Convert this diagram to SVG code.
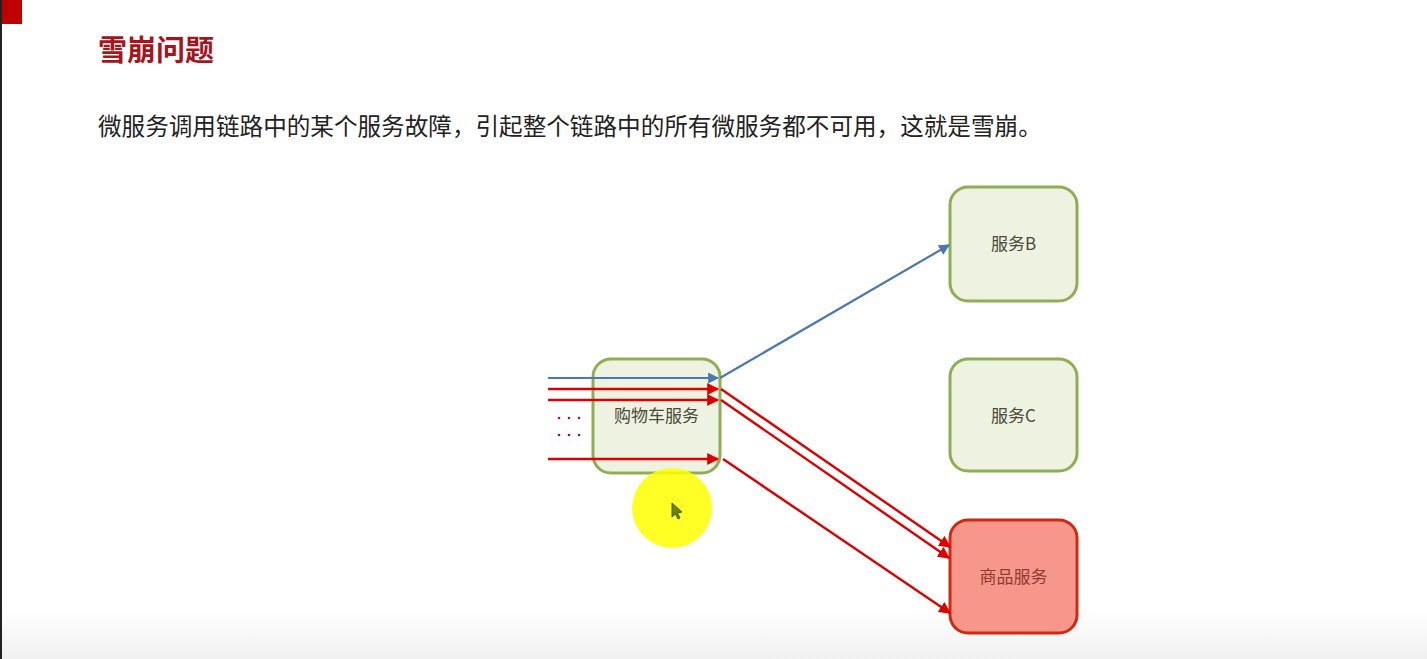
<svg xmlns="http://www.w3.org/2000/svg" width="1427" height="659" viewBox="0 0 1427 659">
<style>
.t{font-family:"Noto Sans CJK SC","Liberation Sans",sans-serif}
.node{fill:#eef3e1;stroke:#8fad53;stroke-width:3}
.bad{fill:#f7978b;stroke:#cc2b12;stroke-width:3}
.lbl{font-size:17px;fill:#4a4a3a;text-anchor:middle;dominant-baseline:central}
.r{stroke:#dd0000;stroke-width:2.4;fill:none}
.b{stroke:#4a78b0;stroke-width:2.2;fill:none}
</style>
<defs>
<marker id="ar" viewBox="0 0 10 10" refX="9" refY="5" markerWidth="5" markerHeight="5" orient="auto" markerUnits="strokeWidth"><path d="M0,0L10,5L0,10z" fill="#dd0000"/></marker>
<marker id="ab" viewBox="0 0 10 10" refX="9" refY="5" markerWidth="5" markerHeight="5" orient="auto" markerUnits="strokeWidth"><path d="M0,0L10,5L0,10z" fill="#4a78b0"/></marker>
<linearGradient id="bg" x1="0" y1="0" x2="0" y2="1"><stop offset="0" stop-color="#ffffff"/><stop offset="1" stop-color="#f0f0f0"/></linearGradient>
</defs>
<rect x="0" y="0" width="1427" height="659" fill="#ffffff"/>
<rect x="0" y="610" width="1427" height="49" fill="url(#bg)"/>
<rect x="0" y="0" width="22" height="24" fill="#c00000"/>
<line x1="1" y1="0" x2="1" y2="659" stroke="#222" stroke-width="2"/>
<text class="t" x="98" y="61" font-size="29" font-weight="bold" fill="#a8141c">雪崩问题</text>
<text class="t" x="98" y="135" font-size="23.6" fill="#222">微服务调用链路中的某个服务故障，引起整个链路中的所有微服务都不可用，这就是雪崩。</text>
<g id="cart"><rect class="node" x="593" y="359" width="127" height="114" rx="18"/><text class="t lbl" x="656.5" y="414">购物车服务</text></g>
<g id="serviceB"><rect class="node" x="950" y="187" width="127" height="114" rx="18"/><text class="t lbl" x="1013.5" y="242">服务B</text></g>
<g id="serviceC"><rect class="node" x="950" y="359" width="127" height="112" rx="18"/><text class="t lbl" x="1013.5" y="414">服务C</text></g>
<g id="product"><rect class="bad" x="950" y="520" width="127" height="113" rx="18"/><text class="t lbl" x="1013.5" y="575" style="fill:#8f3b30">商品服务</text></g>
<g id="connectors">
<line class="b" x1="548" y1="378" x2="718" y2="378" marker-end="url(#ab)"/>
<line class="b" x1="720" y1="378" x2="949" y2="245" marker-end="url(#ab)"/>
<line class="r" x1="548" y1="389" x2="718" y2="389" marker-end="url(#ar)"/>
<line class="r" x1="548" y1="400" x2="718" y2="400" marker-end="url(#ar)"/>
<line class="r" x1="548" y1="459" x2="718" y2="459" marker-end="url(#ar)"/>
<line class="r" x1="721" y1="389" x2="950" y2="547" marker-end="url(#ar)"/>
<line class="r" x1="721" y1="400" x2="949" y2="558" marker-end="url(#ar)"/>
<line class="r" x1="723" y1="459" x2="950" y2="613" marker-end="url(#ar)"/>
</g>
<g fill="#b01030">
<circle cx="559" cy="418" r="1.3"/><circle cx="569" cy="418" r="1.3"/><circle cx="579" cy="418" r="1.3"/>
<circle cx="559" cy="435" r="1.3"/><circle cx="569" cy="435" r="1.3"/><circle cx="579" cy="435" r="1.3"/>
</g>
<circle cx="672" cy="508" r="40" fill="#ffff00" fill-opacity="0.85"/>
<path d="M672,503 L672,517 L675.5,514 L678,519 L680,518 L677.5,513 L682,512 Z" fill="#6a8a00" stroke="#334400" stroke-width="0.8"/>
</svg>
